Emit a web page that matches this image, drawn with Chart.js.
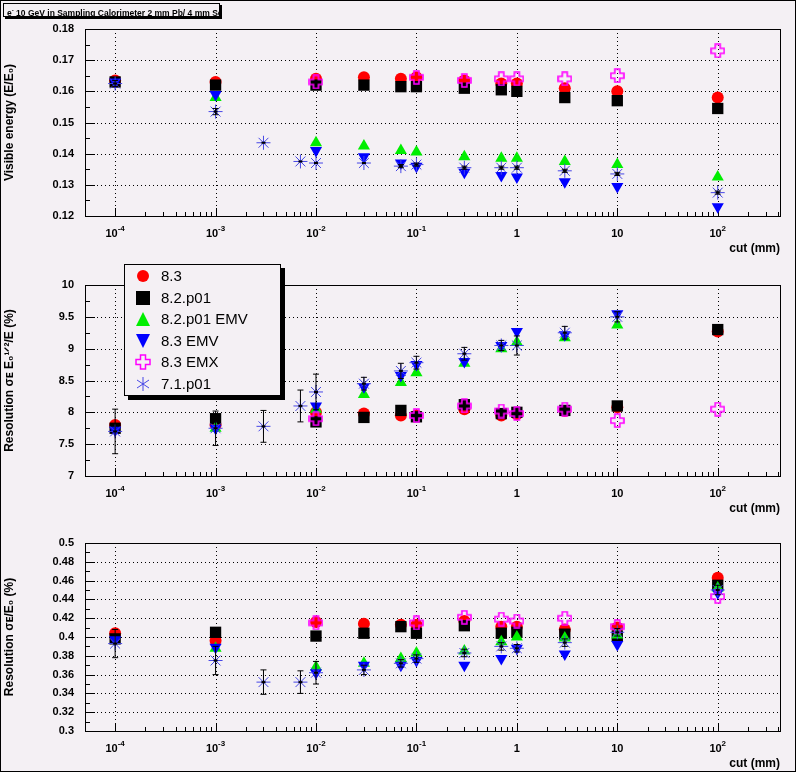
<!DOCTYPE html>
<html><head><meta charset="utf-8">
<script src="https://cdn.jsdelivr.net/npm/chart.js@4"></script>
<style>
body{margin:0;background:#f4f0f4;width:796px;height:772px;position:relative;overflow:hidden;font-family:Arial,"Liberation Sans",sans-serif}
canvas{position:absolute;left:0}
#frame{position:absolute;left:0;top:0;width:794px;height:770px;border:1px solid #000;pointer-events:none}
#ttl{position:absolute;left:3px;top:3px;width:212px;height:12px;border:1px solid #000;font-size:8.5px;font-weight:bold;line-height:12px;padding-left:3px;background:#f4f0f4;box-shadow:2px 2px 0 #000;white-space:nowrap;overflow:hidden}
#leg{position:absolute;left:124px;top:264px;width:155px;height:130px;border:1px solid #000;background:#f4f0f4;box-shadow:4px 4px 0 #000;font-size:15px}
#leg div{height:21.5px;line-height:21.5px;position:relative;padding-left:36px}
#leg svg{position:absolute;left:10px;top:3px}
</style></head><body>
<canvas id="c1" width="796" height="260" style="top:0"></canvas>
<canvas id="c2" width="796" height="255" style="top:260px"></canvas>
<canvas id="c3" width="796" height="257" style="top:515px"></canvas>
<div id="ttl">e<sup style="font-size:6px">-</sup> 10 GeV in Sampling Calorimeter 2 mm Pb/ 4 mm Scin</div>
<div id="leg"></div>
<div id="frame"></div>
<script>
const cuts=[1e-4,1e-3,1e-2,3e-2,7e-2,1e-1,3e-1,7e-1,1,3,10,100];
const cuts71=[1e-4,1e-3,3e-3,7e-3,1e-2,3e-2,7e-2,1e-1,3e-1,7e-1,1,3,10,100];
const seriesNames=["8.3","8.2.p01","8.2.p01 EMV","8.3 EMV","8.3 EMX","7.1.p01"];
const xTickVals=[1e-4,1e-3,1e-2,1e-1,1,10,100];
const xTickBase=["10","10","10","10","1","10","10"];
const xTickExp=["-4","-3","-2","-1","","","2"];
// Panel 1: visible energy
const vis83=[0.1635,0.163,0.164,0.1645,0.164,0.1645,0.1635,0.1625,0.1625,0.161,0.160,0.158];
const vis82=[0.163,0.162,0.162,0.162,0.1615,0.1615,0.161,0.1605,0.160,0.158,0.157,0.1545];
const vis82emv=[null,0.158,0.1435,0.1425,0.141,0.1405,0.139,0.1385,0.1385,0.1375,0.1365,0.1325];
const vis83emv=[0.163,0.159,0.141,0.139,0.137,0.136,0.134,0.133,0.1325,0.131,0.1295,0.123];
const vis83emx=[null,null,0.163,null,null,0.1645,0.1635,0.164,0.164,0.164,0.165,0.173];
const vis71=[0.1625,0.1535,0.1435,0.1375,0.137,0.137,0.136,0.1365,0.1355,0.1355,0.1355,0.1345,0.1335,0.1275];
const vis71err=[0.001,0.001,0,0,0,0,0.0005,0.0005,0.0005,0.0005,0.0005,0.0005,0.0005,0.0005];
// Panel 2
const st83=[7.8,7.8,8.0,7.98,7.95,7.95,8.05,7.95,7.97,8.02,8.08,9.27];
const st82=[7.75,7.9,7.85,7.92,8.03,7.93,8.12,7.98,8.0,8.03,8.1,9.3];
const st82emv=[null,7.75,8.05,8.28,8.47,8.62,8.77,9.0,9.1,9.17,9.37,null];
const st83emv=[7.72,7.75,8.1,8.4,8.58,8.75,8.8,9.05,9.27,9.22,9.55,null];
const st83emx=[null,null,7.9,null,null,7.95,8.1,8.02,7.98,8.05,7.87,8.05];
const st71=[7.7,7.75,7.78,8.1,8.32,8.45,8.65,8.78,8.92,9.05,9.05,9.25,9.5,null];
const st71err=[0.35,0.27,0.25,0.25,0.28,0.1,0.12,0.1,0.1,0.08,0.15,0.1,0.08,0];
// Panel 3
const r83=[0.404,0.396,0.416,0.414,0.413,0.413,0.417,0.411,0.411,0.408,0.410,0.463];
const r82=[0.398,0.405,0.401,0.404,0.411,0.404,0.412,0.404,0.405,0.403,0.401,0.455];
const r82emv=[null,0.388,0.368,0.372,0.377,0.383,0.385,0.395,0.4,0.399,0.402,0.452];
const r83emv=[0.397,0.389,0.362,0.37,0.37,0.375,0.37,0.377,0.388,0.382,0.392,0.447];
const r83emx=[null,null,0.415,null,null,0.415,0.421,0.419,0.417,0.42,0.411,0.443];
const r71=[0.393,0.375,0.352,0.352,0.362,0.365,0.372,0.377,0.383,0.39,0.388,0.394,0.405,0.45];
const r71err=[0.015,0.015,0.013,0.012,0.012,0.005,0.004,0.004,0.004,0.004,0.004,0.004,0.004,0.005];

function plusImg(){const c=document.createElement('canvas');c.width=15;c.height=15;const g=c.getContext('2d');
g.strokeStyle='#ff00ff';g.lineWidth=1.6;g.beginPath();
const p=[[5,1],[10,1],[10,5],[14,5],[14,10],[10,10],[10,14],[5,14],[5,10],[1,10],[1,5],[5,5]];
g.moveTo(p[0][0],p[0][1]);p.forEach(q=>g.lineTo(q[0],q[1]));g.closePath();g.stroke();return c;}
const PLUS=plusImg();
const pts=(xs,ys)=>xs.map((x,i)=>ys[i]==null?null:{x:x,y:ys[i]}).filter(Boolean);
function sets(a,b,c,d,e,f,ferr){
 return [
 {label:seriesNames[5],data:pts(cuts71,f),err:ferr,pointStyle:'star',radius:7,borderColor:'#4646e6',backgroundColor:'#4646e6',borderWidth:1},
 {label:seriesNames[4],data:pts(cuts,e),pointStyle:PLUS,radius:7},
 {label:seriesNames[3],data:pts(cuts,d),pointStyle:'triangle',rotation:180,radius:7,backgroundColor:'#0000ff',borderColor:'#0000ff',borderWidth:0},
 {label:seriesNames[2],data:pts(cuts,c),pointStyle:'triangle',radius:7,backgroundColor:'#00ee00',borderColor:'#00ee00',borderWidth:0},
 {label:seriesNames[1],data:pts(cuts,b),pointStyle:'rect',radius:8,backgroundColor:'#000',borderColor:'#000',borderWidth:0},
 {label:seriesNames[0],data:pts(cuts,a),pointStyle:'circle',radius:6,backgroundColor:'#ff0000',borderColor:'#ff0000',borderWidth:0}
 ];
}
const gridPlugin={id:'dgrid',beforeDatasetsDraw(ch){const g=ch.ctx,a=ch.chartArea,xs=ch.scales.x,ys=ch.scales.y;
 g.save();g.strokeStyle='#000';g.lineWidth=1;g.setLineDash([1,3]);g.beginPath();
 xTickVals.forEach(v=>{const p=Math.round(xs.getPixelForValue(v))+0.5;g.moveTo(p,a.top);g.lineTo(p,a.bottom);});
 ys.ticks.forEach(t=>{const p=Math.round(ys.getPixelForValue(t.value))+0.5;g.moveTo(a.left,p);g.lineTo(a.right,p);});
 g.stroke();g.setLineDash([]);g.beginPath();
 xTickVals.forEach(v=>{const p=Math.round(xs.getPixelForValue(v))+0.5;g.moveTo(p,a.bottom);g.lineTo(p,a.bottom-8);
   for(let k=2;k<10;k++){const w=v*k;if(w>xs.max)break;const q=Math.round(xs.getPixelForValue(w))+0.5;g.moveTo(q,a.bottom);g.lineTo(q,a.bottom-4);}});
 ys.ticks.forEach((t,i)=>{const p=Math.round(ys.getPixelForValue(t.value))+0.5;g.moveTo(a.left,p);g.lineTo(a.left+10,p);
   if(i<ys.ticks.length-1){const m=Math.round(ys.getPixelForValue((t.value+ys.ticks[i+1].value)/2))+0.5;g.moveTo(a.left,m);g.lineTo(a.left+5,m);}});
 g.stroke();
 // x tick labels with superscripts
 g.fillStyle='#000';g.textBaseline='alphabetic';
 xTickVals.forEach((v,i)=>{const p=xs.getPixelForValue(v);g.font='bold 11px Arial';const w1=g.measureText(xTickBase[i]).width;
   g.font='bold 8px Arial';const w2=xTickExp[i]?g.measureText(xTickExp[i]).width:0;const x0=p-(w1+w2)/2;
   g.font='bold 11px Arial';g.textAlign='left';g.fillText(xTickBase[i],x0,a.bottom+21);
   if(w2){g.font='bold 8px Arial';g.fillText(xTickExp[i],x0+w1,a.bottom+15);}});
 g.restore();}};
const errPlugin={id:'err',afterDatasetsDraw(ch){const g=ch.ctx;const ys=ch.scales.y,xs=ch.scales.x;
 ch.data.datasets.forEach(ds=>{if(!ds.err)return;g.save();g.strokeStyle='#000';g.lineWidth=1;
  ds.data.forEach((p)=>{const e=ds.err[cuts71.indexOf(p.x)];const px=xs.getPixelForValue(p.x);
   const py=ys.getPixelForValue(p.y);g.fillStyle='#000';g.fillRect(px-2,py-1,4,2);
   if(!e)return;const a=ys.getPixelForValue(p.y+e),b=ys.getPixelForValue(p.y-e);
   g.beginPath();g.moveTo(px,a);g.lineTo(px,b);g.moveTo(px-3,a);g.lineTo(px+3,a);g.moveTo(px-3,b);g.lineTo(px+3,b);g.stroke();});
  g.restore();});
 const a=ch.chartArea;g.save();g.strokeStyle='#000';g.lineWidth=1;g.strokeRect(Math.round(a.left)+0.5,Math.round(a.top)+0.5,Math.round(a.right-a.left),Math.round(a.bottom-a.top));
 g.font='bold 12px Arial';g.fillStyle='#000';g.textAlign='right';g.fillText('cut (mm)',a.right,a.bottom+36);g.restore();}};
function make(id,ds,ymin,ymax,step,title,pt,hx,dec){
 new Chart(document.getElementById(id),{type:'scatter',data:{datasets:ds},plugins:[gridPlugin,errPlugin],
 options:{responsive:false,animation:false,layout:{padding:{top:pt,right:16,left:0,bottom:0}},
 plugins:{legend:{display:false},tooltip:{enabled:false}},
 scales:{
  x:{type:'logarithmic',min:Math.pow(10,-4.3),max:Math.pow(10,2.62),
   afterBuildTicks(s){s.ticks=xTickVals.map(v=>({value:v}));},
   afterFit(s){s.height=hx;},
   ticks:{display:false},grid:{display:false},border:{display:false}},
  y:{min:ymin,max:ymax,afterFit(s){s.width=85;},
   ticks:{stepSize:step,color:'#000',font:{size:11,weight:'bold'},callback:v=>+v.toFixed(dec)+''},
   title:{display:true,text:title,color:'#000',font:{size:12,weight:'bold'},padding:2},
   grid:{display:false},border:{display:false}}}}});
}
make('c1',sets(vis83,vis82,vis82emv,vis83emv,vis83emx,vis71,vis71err),0.12,0.18,0.01,'Visible energy (E/E\u2080)',29,44,2);
make('c2',sets(st83,st82,st82emv,st83emv,st83emx,st71,st71err),7,10,0.5,'Resolution \u03C3\u1D07 E\u2080\u00B9\u141F\u00B2/E (%)',25,39,1);
make('c3',sets(r83,r82,r82emv,r83emv,r83emx,r71,r71err),0.3,0.5,0.02,'Resolution \u03C3\u1D07/E\u2080 (%)',28,41,2);
const sym=[
 '<svg width="16" height="16"><circle cx="8" cy="8" r="6" fill="#f00"/></svg>',
 '<svg width="16" height="16"><rect x="1" y="1" width="14" height="14" fill="#000"/></svg>',
 '<svg width="16" height="16"><polygon points="8,1 15,15 1,15" fill="#0e0"/></svg>',
 '<svg width="16" height="16"><polygon points="1,1 15,1 8,15" fill="#00f"/></svg>',
 '<svg width="16" height="16"><polygon points="5.5,1 10.5,1 10.5,5.5 15,5.5 15,10.5 10.5,10.5 10.5,15 5.5,15 5.5,10.5 1,10.5 1,5.5 5.5,5.5" fill="none" stroke="#f0f" stroke-width="1.5"/></svg>',
 '<svg width="16" height="16" stroke="#4646e6" stroke-width="1"><line x1="8" y1="1" x2="8" y2="15"/><line x1="2" y1="4" x2="14" y2="12"/><line x1="2" y1="12" x2="14" y2="4"/></svg>'];
document.getElementById('leg').innerHTML=seriesNames.map((n,i)=>'<div>'+sym[i]+n+'</div>').join('');
</script></body></html>
